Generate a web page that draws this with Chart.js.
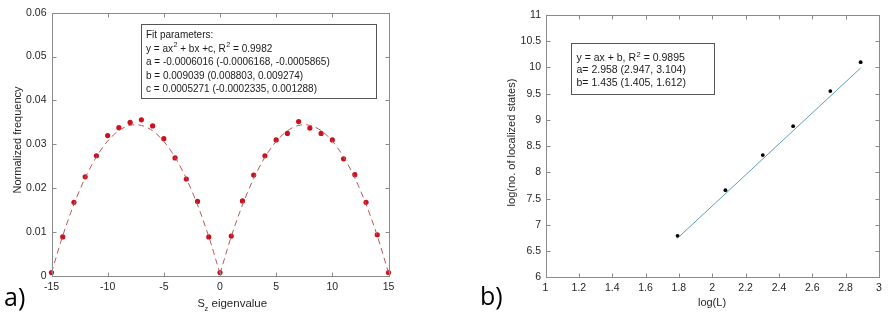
<!DOCTYPE html>
<html>
<head>
<meta charset="utf-8">
<script src="https://cdn.jsdelivr.net/npm/chart.js@4.4.1/dist/chart.umd.min.js"></script>
<style>
  body { margin: 0; background: #fff; width: 894px; height: 317px; position: relative; overflow: hidden; }
  .panel { position: absolute; top: 0; width: 447px; height: 317px; }
  #panelA { left: 0; }
  #panelB { left: 447px; }
</style>
</head>
<body>
<div class="panel" id="panelA"><canvas id="chartA"></canvas></div>
<div class="panel" id="panelB"><canvas id="chartB"></canvas></div>
<script>
// panel a) - Sz distribution
const szValues = [-15, -14, -13, -12, -11, -10, -9, -8, -7, -6, -5, -4, -3, -2, -1, 0,
  1, 2, 3, 4, 5, 6, 7, 8, 9, 10, 11, 12, 13, 14, 15];
const freqValues = [0.0008, 0.0089, 0.0168, 0.0226, 0.0274, 0.0320, 0.0338, 0.0350, 0.0356, 0.0342,
  0.0313, 0.0269, 0.0221, 0.0170, 0.0089, 0.0008, 0.0091, 0.0171, 0.0230, 0.0274, 0.0310, 0.0325,
  0.0352, 0.0337, 0.0325, 0.0310, 0.0267, 0.0231, 0.0168, 0.0094, 0.0008];
const fitSzLeft = [-15, -14, -13, -12, -11, -10, -9, -8, -7, -6, -5, -4, -3, -2, -1, 0];
const fitFreqLeft = [0.00075, 0.00916, 0.01636, 0.02237, 0.02716, 0.03076, 0.03315, 0.03434,
  0.03432, 0.03310, 0.03068, 0.02706, 0.02223, 0.01620, 0.00897, 0.00053];
const fitSzRight = [0, 1, 2, 3, 4, 5, 6, 7, 8, 9, 10, 11, 12, 13, 14, 15];
const fitFreqRight = [0.00053, 0.00897, 0.01620, 0.02223, 0.02706, 0.03068, 0.03310, 0.03432,
  0.03434, 0.03315, 0.03076, 0.02716, 0.02237, 0.01636, 0.00916, 0.00075];
const szTicks = [-15, -10, -5, 0, 5, 10, 15];
const freqTicks = [0, 0.01, 0.02, 0.03, 0.04, 0.05, 0.06];

// panel b) - localized states vs system size
const logL = [1.792, 2.079, 2.303, 2.485, 2.708, 2.890];
const logStates = [6.79, 7.66, 8.33, 8.88, 9.55, 10.10];
const fitLogL = [1.79, 2.89];
const fitLogStates = [6.74, 9.99];
const logLTicks = [1, 1.2, 1.4, 1.6, 1.8, 2, 2.2, 2.4, 2.6, 2.8, 3];
const logStateTicks = [6, 6.5, 7, 7.5, 8, 8.5, 9, 9.5, 10, 10.5, 11];

// annotation texts ("^2" marks a superscript 2)
const fitTextA = ["Fit parameters:", "y = ax^2 + bx +c, R^2 = 0.9982",
  "a = -0.0006016 (-0.0006168, -0.0005865)", "b = 0.009039 (0.008803, 0.009274)",
  "c = 0.0005271 (-0.0002335, 0.001288)"];
const fitTextB = ["y = ax + b, R^2 = 0.9895", "a= 2.958 (2.947, 3.104)", "b= 1.435 (1.405, 1.612)"];

const FONT = '"Liberation Sans", Arial, sans-serif';
const axisColor = "#8a8a8a";
const labelColor = "#262626";

function pts(xs, ys) {
  return xs.map((x, i) => ({ x: x, y: ys[i] }));
}

// text with ^2 superscripts
function richText(ctx, str, x, y, size) {
  const parts = str.split("^2");
  let cx = x;
  parts.forEach((p, i) => {
    ctx.font = size + "px " + FONT;
    ctx.fillText(p, cx, y);
    cx += ctx.measureText(p).width;
    if (i < parts.length - 1) {
      ctx.font = (size * 0.72) + "px " + FONT;
      ctx.fillText("2", cx + 0.5, y - size * 0.42);
      cx += ctx.measureText("2").width + 0.5;
    }
  });
}

function textBox(ctx, lines, box, x0, y0, step, size) {
  ctx.fillStyle = "#fff";
  ctx.fillRect(box[0], box[1], box[2], box[3]);
  ctx.strokeStyle = "#555";
  ctx.lineWidth = 1;
  ctx.strokeRect(Math.round(box[0]) + 0.5, Math.round(box[1]) + 0.5, Math.round(box[2]), Math.round(box[3]));
  ctx.fillStyle = "#1a1a1a";
  ctx.textAlign = "left";
  ctx.textBaseline = "alphabetic";
  lines.forEach((l, i) => richText(ctx, l, x0, y0 + i * step, size));
}

// MATLAB style box with inward ticks on all four sides
function framePlugin(drawExtra) {
  return {
    id: "frame",
    afterDraw(chart) {
      const ctx = chart.ctx, a = chart.chartArea;
      const xs = chart.scales.x, ys = chart.scales.y;
      const L = Math.round(a.left) + 0.5, R = Math.round(a.right) + 0.5;
      const T = Math.round(a.top) + 0.5, B = Math.round(a.bottom) + 0.5;
      ctx.save();
      ctx.strokeStyle = axisColor;
      ctx.lineWidth = 1;
      ctx.strokeRect(L, T, R - L, B - T);
      ctx.beginPath();
      xs.ticks.forEach(t => {
        const px = Math.round(xs.getPixelForValue(t.value)) + 0.5;
        ctx.moveTo(px, B); ctx.lineTo(px, B - 4);
        ctx.moveTo(px, T); ctx.lineTo(px, T + 4);
      });
      ys.ticks.forEach(t => {
        const py = Math.round(ys.getPixelForValue(t.value)) + 0.5;
        ctx.moveTo(L, py); ctx.lineTo(L + 4, py);
        ctx.moveTo(R, py); ctx.lineTo(R - 4, py);
      });
      ctx.stroke();
      drawExtra(ctx, chart);
      ctx.restore();
    }
  };
}

function axisOpts(min, max, tickVals, fmt, pad, fixSize, horizontal) {
  return {
    type: "linear",
    min: min,
    max: max,
    grid: { display: false, drawTicks: false, tickLength: 0 },
    border: { display: false },
    afterBuildTicks: s => { s.ticks = tickVals.map(v => ({ value: v })); },
    afterFit: s => { if (horizontal) s.height = fixSize; else s.width = fixSize; },
    ticks: {
      padding: pad,
      autoSkip: false,
      maxRotation: 0,
      color: labelColor,
      font: { family: FONT, size: 10.5 },
      callback: fmt
    }
  };
}

// Render panel a)
function renderChartA() {
  const extra = (ctx) => {
    textBox(ctx, fitTextA, [140.5, 24, 235, 74], 146, 38, 13.5, 10);
    ctx.fillStyle = labelColor;
    ctx.font = "11px " + FONT;
    ctx.textAlign = "left";
    ctx.fillText("S", 197.5, 307);
    ctx.font = "7.5px " + FONT;
    ctx.fillText("z", 204.5, 311);
    ctx.font = "11.5px " + FONT;
    ctx.fillText("eigenvalue", 211.5, 307);
    ctx.font = "11px " + FONT;
    ctx.save();
    ctx.translate(21, 140);
    ctx.rotate(-Math.PI / 2);
    ctx.textAlign = "center";
    ctx.fillText("Normalized frequency", 0, 0);
    ctx.restore();
    ctx.fillStyle = "#000";
    ctx.font = "25px 'Open Sans', sans-serif";
    ctx.textAlign = "left";
    ctx.fillText("a)", 4, 306);
  };
  new Chart(document.getElementById("chartA"), {
    type: "scatter",
    data: {
      datasets: [
        { data: pts(fitSzLeft, fitFreqLeft), showLine: true, pointRadius: 0, borderColor: "#b95a5a",
          borderWidth: 1, borderDash: [6, 4], tension: 0.3, clip: false },
        { data: pts(fitSzRight, fitFreqRight), showLine: true, pointRadius: 0, borderColor: "#b95a5a",
          borderWidth: 1, borderDash: [6, 4], tension: 0.3, clip: false },
        { data: pts(szValues, freqValues), pointRadius: 2.6, pointBackgroundColor: "#cc111e",
          pointBorderWidth: 0, borderColor: "#cc111e", clip: false }
      ]
    },
    options: {
      responsive: false,
      animation: false,
      layout: { padding: { left: 0, right: 58.5, top: 12.7, bottom: 0 } },
      plugins: { legend: { display: false }, tooltip: { enabled: false } },
      scales: {
        x: axisOpts(-15, 15, szTicks, v => String(v), 5, 41, true),
        y: axisOpts(0, 0.06, freqTicks, v => (v === 0 ? "0" : v.toFixed(2)), 5, 51.5, false)
      }
    },
    plugins: [framePlugin(extra)]
  });
}

// Render panel b)
function renderChartB() {
  const extra = (ctx) => {
    textBox(ctx, fitTextB, [124, 43.3, 143.3, 51.4], 129.5, 61, 12.4, 10.5);
    ctx.fillStyle = labelColor;
    ctx.font = "11px " + FONT;
    ctx.textAlign = "center";
    ctx.fillText("log(L)", 265, 306);
    ctx.save();
    ctx.translate(67.5, 142.5);
    ctx.rotate(-Math.PI / 2);
    ctx.fillText("log(no. of localized states)", 0, 0);
    ctx.restore();
    ctx.fillStyle = "#000";
    ctx.font = "25px 'Open Sans', sans-serif";
    ctx.textAlign = "left";
    ctx.fillText("b)", 33, 305);
  };
  new Chart(document.getElementById("chartB"), {
    type: "scatter",
    data: {
      datasets: [
        { data: pts(fitLogL, fitLogStates), showLine: true, pointRadius: 0, borderColor: "#5f9db2",
          borderWidth: 1, clip: false },
        { data: pts(logL, logStates), pointRadius: 1.9, pointBackgroundColor: "#000",
          pointBorderWidth: 0, clip: false }
      ]
    },
    options: {
      responsive: false,
      animation: false,
      layout: { padding: { left: 0, right: 15, top: 15, bottom: 0 } },
      plugins: { legend: { display: false }, tooltip: { enabled: false } },
      scales: {
        x: axisOpts(1, 3, logLTicks, v => String(+v.toFixed(1)), 5, 39.7, true),
        y: axisOpts(6, 11, logStateTicks, v => String(v), 4.5, 98.5, false)
      }
    },
    plugins: [framePlugin(extra)]
  });
}

function init() {
  document.querySelectorAll("canvas").forEach(c => { c.width = 447; c.height = 317; });
  renderChartA();
  renderChartB();
}

init();
</script>
</body>
</html>
